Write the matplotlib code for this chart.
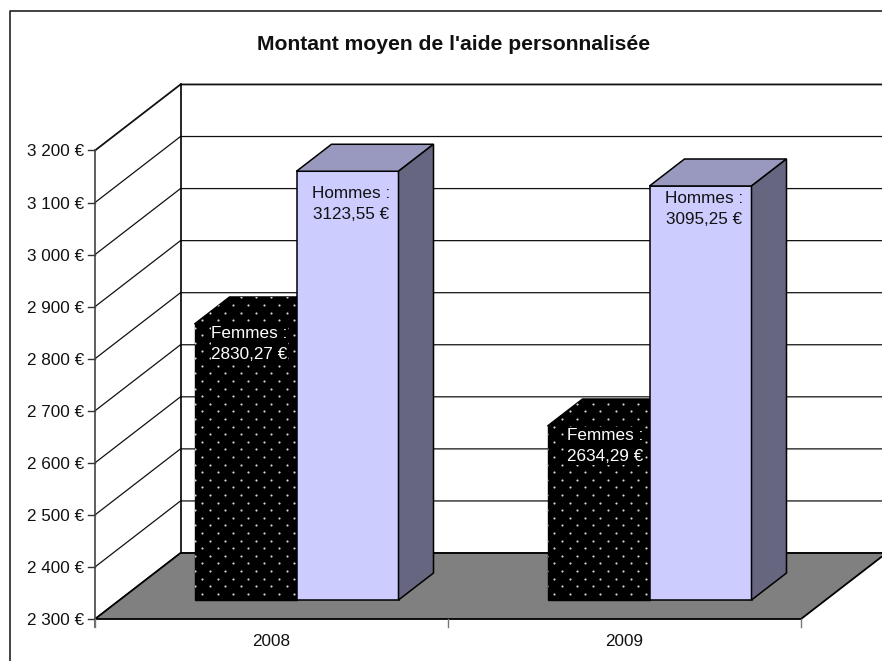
import numpy as np
import matplotlib
matplotlib.use("Agg")
import matplotlib.pyplot as plt
from matplotlib.patches import Polygon

years = ["2008", "2009"]
femmes = [2830.27, 2634.29]
hommes = [3123.55, 3095.25]
tick_values = [2300, 2400, 2500, 2600, 2700, 2800, 2900, 3000, 3100, 3200]
title = "Montant moyen de l'aide personnalisée"

W, H = 882, 661
plt.rcParams['font.family'] = ['Liberation Sans', 'DejaVu Sans']
fig = plt.figure(figsize=(W/100, H/100), dpi=100)
ax = fig.add_axes([0, 0, 1, 1])

X0, CAT = 95.0, 353.0      # px of first category edge, px per category
Y0, PPU = 619.0, 0.5206    # px of 2300, px per euro
ax.set_xlim(-X0/CAT, (W-X0)/CAT)
ax.set_ylim(2300-(H-Y0)/PPU, 2300+Y0/PPU)
ax.axis('off')

def ux(px): return px/CAT            # horizontal pixels to data
def uy(px): return px/PPU            # vertical pixels to data
DX, DY = ux(85.5), uy(66)            # full depth of the floor
XMAX = (W-X0)/CAT
FS = 12.3

# outer frame
top = 2300+(Y0-11)/PPU
left = (10.5-X0)/CAT
ax.plot([left, left, XMAX], [2300-(H-Y0)/PPU, top, top], color='#222222', lw=1.2, clip_on=False)

# floor
floor = Polygon([(0, 2300), (DX, 2300+DY), (2+DX, 2300+DY), (2, 2300)], closed=True,
                fc='#808080', ec='black', lw=1.3, zorder=2)
ax.add_patch(floor)

# walls and gridlines
for v in tick_values:
    lw = 1.3 if v == tick_values[-1] else 0.9
    ax.plot([0, DX, XMAX], [v, v+DY, v+DY], color='#111111', lw=lw, zorder=1)
    ax.plot([ux(-7), 0], [v, v], color='#333333', lw=1, zorder=3)
    ax.text(ux(-10.5), v, f"{v//1000} {v%1000:03d} €", ha='right', va='center_baseline', fontsize=FS, color='#111111')
ax.plot([0, 0], [2300-uy(8), tick_values[-1]], color='#444444', lw=1.2, zorder=3)
ax.plot([DX, DX], [2300+DY, tick_values[-1]+DY], color='black', lw=1.2, zorder=1)
for i in range(3):
    ax.plot([i, i], [2300-uy(8), 2300], color='#777777', lw=1, zorder=3)

for i, y in enumerate(years):
    ax.text(i+0.5, 2300-uy(22), y, ha='center', va='center', fontsize=FS, color='#111111')

ax.text(ux(W/2+13-X0), 2300+uy(Y0-44), title, ha='center', va='center', fontsize=15.2,
        fontweight='bold', color='#111111')

# bars
BW = 102/CAT
FX, FY = ux(25), uy(19)       # offset of bar fronts from the axis plane
SX, SY = ux(35), uy(27)       # bar depth
BASE = 2300+FY

def dots(poly):
    xs, ys = [], []
    for r, py in enumerate(np.arange(0, H, 7.6)):
        for px in np.arange(3.5 + (r % 2)*7.65, W, 15.3):
            xs.append((px-X0)/CAT); ys.append(2300+(Y0-py-1)/PPU)
    sc = ax.scatter(xs, ys, s=2.4, c='#d8d8d8', lw=0, zorder=poly.get_zorder()+0.1)
    sc.set_clip_path(poly)

def fmt(val):
    return f"{val:.2f}".replace('.', ',') + " €"

LABEL_H = [(4, 32.5), (4, 23)]     # pixel offsets of the labels from the bar top
LABEL_F = [(4, 20), (7, 20)]

for i in range(2):
    c = i+0.5+FX
    # Femmes, left of the centre
    v = femmes[i]+FY
    front = Polygon([(c-BW, BASE), (c-BW, v), (c, v), (c, BASE)], closed=True, fc='black', ec='black', lw=1, zorder=4)
    topf = Polygon([(c-BW, v), (c-BW+SX, v+SY), (c+SX, v+SY), (c, v)], closed=True, fc='black', ec='black', lw=1, zorder=4)
    ax.add_patch(front); ax.add_patch(topf)
    dots(front); dots(topf)
    ax.text(c-BW/2+ux(LABEL_F[i][0]), v-uy(LABEL_F[i][1]), f"Femmes :\n{fmt(femmes[i])}", ha='center', va='center',
            fontsize=FS, color='white', zorder=4.5, linespacing=1.5,
            bbox=dict(fc='black', ec='none', pad=0.5))
    # Hommes, right of the centre
    v = hommes[i]+FY
    face = Polygon([(c, BASE), (c, v), (c+BW, v), (c+BW, BASE)], closed=True, fc='#CCCCFF', ec='black', lw=1.1, zorder=5)
    cap = Polygon([(c, v), (c+SX, v+SY), (c+BW+SX, v+SY), (c+BW, v)], closed=True, fc='#9999C0', ec='black', lw=1.1, zorder=5)
    side = Polygon([(c+BW, BASE), (c+BW, v), (c+BW+SX, v+SY), (c+BW+SX, BASE+SY)], closed=True, fc='#666680', ec='black', lw=1.1, zorder=5)
    for p in (face, cap, side):
        ax.add_patch(p)
    ax.text(c+BW/2+ux(LABEL_H[i][0]), v-uy(LABEL_H[i][1]), f"Hommes :\n{fmt(hommes[i])}", ha='center', va='center', fontsize=FS,
            color='#111111', zorder=7, linespacing=1.5)

fig.savefig("out.png", dpi=100, facecolor='white')
